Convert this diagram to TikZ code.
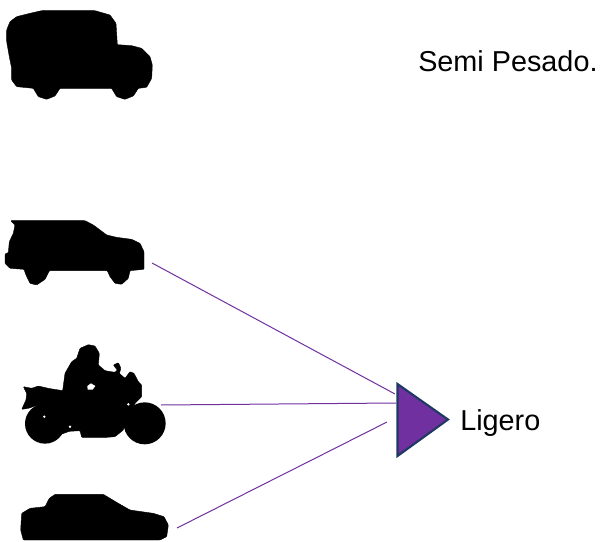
\documentclass[tikz,border=0pt]{standalone}
\usepackage{fontspec}
\setmainfont{Liberation Sans}
\usepackage{xcolor}
\definecolor{linepurple}{HTML}{7030A0}
\definecolor{edgeblue}{HTML}{203864}
\tikzset{%
  silhouette/.style = {fill = black, draw = black, line width = 0.3pt, line join = round, rounded corners = 0.6pt},
  hole/.style       = {fill = white}, % Gaps in the motorcycle
  link/.style       = {draw = linepurple, line width = 0.75pt},
  marker/.style     = {fill = linepurple, draw = edgeblue, line width = 1.6pt, line join = miter},
  caption/.style    = {font = \fontsize{21.6}{26}\selectfont, inner sep = 0pt, anchor = base west}
}
\begin{document}
\begin{tikzpicture}[x=0.75pt, y=-0.75pt]
        \useasboundingbox (0,0) rectangle (605,541);
        % truck
        \begin{scope}[x=0.25pt, y=-0.25pt]
            \draw[silhouette] (20,90) -- (30,65) -- (50,50) -- (90,40) -- (125,32) -- (285,32) -- (330,45) -- (348,70)
                -- (352,134) -- (395,137) -- (425,145) -- (450,170) -- (457,195) -- (455,235) -- (440,262) -- (415,265)
                -- (400,288) -- (375,298) -- (350,290) -- (335,265) -- (180,265) -- (165,288) -- (140,298) -- (115,290)
                -- (100,265) -- (50,260) -- (35,240) -- (35,205) -- (28,170) -- (20,125) -- cycle;
        \end{scope}
        % jeep
        \begin{scope}[shift={(0,210)}, x=0.25pt, y=-0.25pt]
            \draw[silhouette] (32,32) -- (255,32) -- (280,45) -- (320,75) -- (350,82) -- (395,88) -- (420,100)
                -- (432,125) -- (432,178) -- (390,182) -- (385,205) -- (365,223) -- (345,220) -- (330,200) -- (322,182)
                -- (148,182) -- (135,208) -- (110,225) -- (90,220) -- (78,195) -- (72,178) -- (30,175) -- (15,160)
                -- (15,132) -- (25,128) -- (28,95) -- (40,70) -- (45,45) -- cycle;
        \end{scope}
        % motorcycle
        \begin{scope}[shift={(10,340)}, x=0.25pt, y=-0.25pt]
            \fill (105,251) circle (60);
            \fill (404,250) circle (63);
            \draw[silhouette] (210,25) -- (235,14) -- (255,18) -- (268,40) -- (265,75) -- (285,92) -- (315,97) -- (322,90)
                -- (310,75) -- (325,68) -- (333,85) -- (328,100) -- (345,115) -- (360,95) -- (372,100) -- (385,125)
                -- (395,135) -- (395,170) -- (375,190) -- (345,250) -- (340,270) -- (315,290) -- (290,292) -- (215,292)
                -- (210,272) -- (178,274) -- (150,284) -- (120,240) -- (55,220) -- (75,205) -- (93,192) -- (55,205)
                -- (35,208) -- (48,180) -- (50,160) -- (40,140) -- (65,145) -- (85,138) -- (115,145) -- (158,152)
                -- (165,100) -- (185,65) -- (200,55) -- cycle;
            \fill[hole] (232,138) -- (243,130) -- (256,138) -- (248,149) -- (233,149) -- cycle;
            \fill[hole] (103,230) circle (4);
            \fill[hole] (180,260) circle (4);
            \fill[hole] (355,193) circle (4);
        \end{scope}
        % sedan
        \begin{scope}[shift={(10,340)}, x=0.25pt, y=-0.25pt]
            \draw[silhouette] (135,463) -- (280,463) -- (325,490) -- (360,510) -- (430,520) -- (462,530) -- (475,555)
                -- (470,590) -- (450,600) -- (40,600) -- (32,570) -- (35,520) -- (60,505) -- (105,500) -- (118,475) -- cycle;
        \end{scope}
        % marker and connectors
        \coordinate (jeep) at (152,263);
        \coordinate (moto) at (161,405);
        \coordinate (sedan) at (177,528);
        \coordinate (jeepend) at (395,394);
        \coordinate (motoend) at (396,403);
        \coordinate (sedanend) at (387,422);
        \draw[marker] (397.5,384) -- (448,419.5) -- (397.5,456) -- cycle;
        \draw[link] (jeep) -- (jeepend);
        \draw[link] (moto) -- (motoend);
        \draw[link] (sedan) -- (sedanend);
        \node[caption] (semi) at (418,72) {Semi Pesado.};
        \node[caption] (ligero) at (460,430) {Ligero};
\end{tikzpicture}
\end{document}
